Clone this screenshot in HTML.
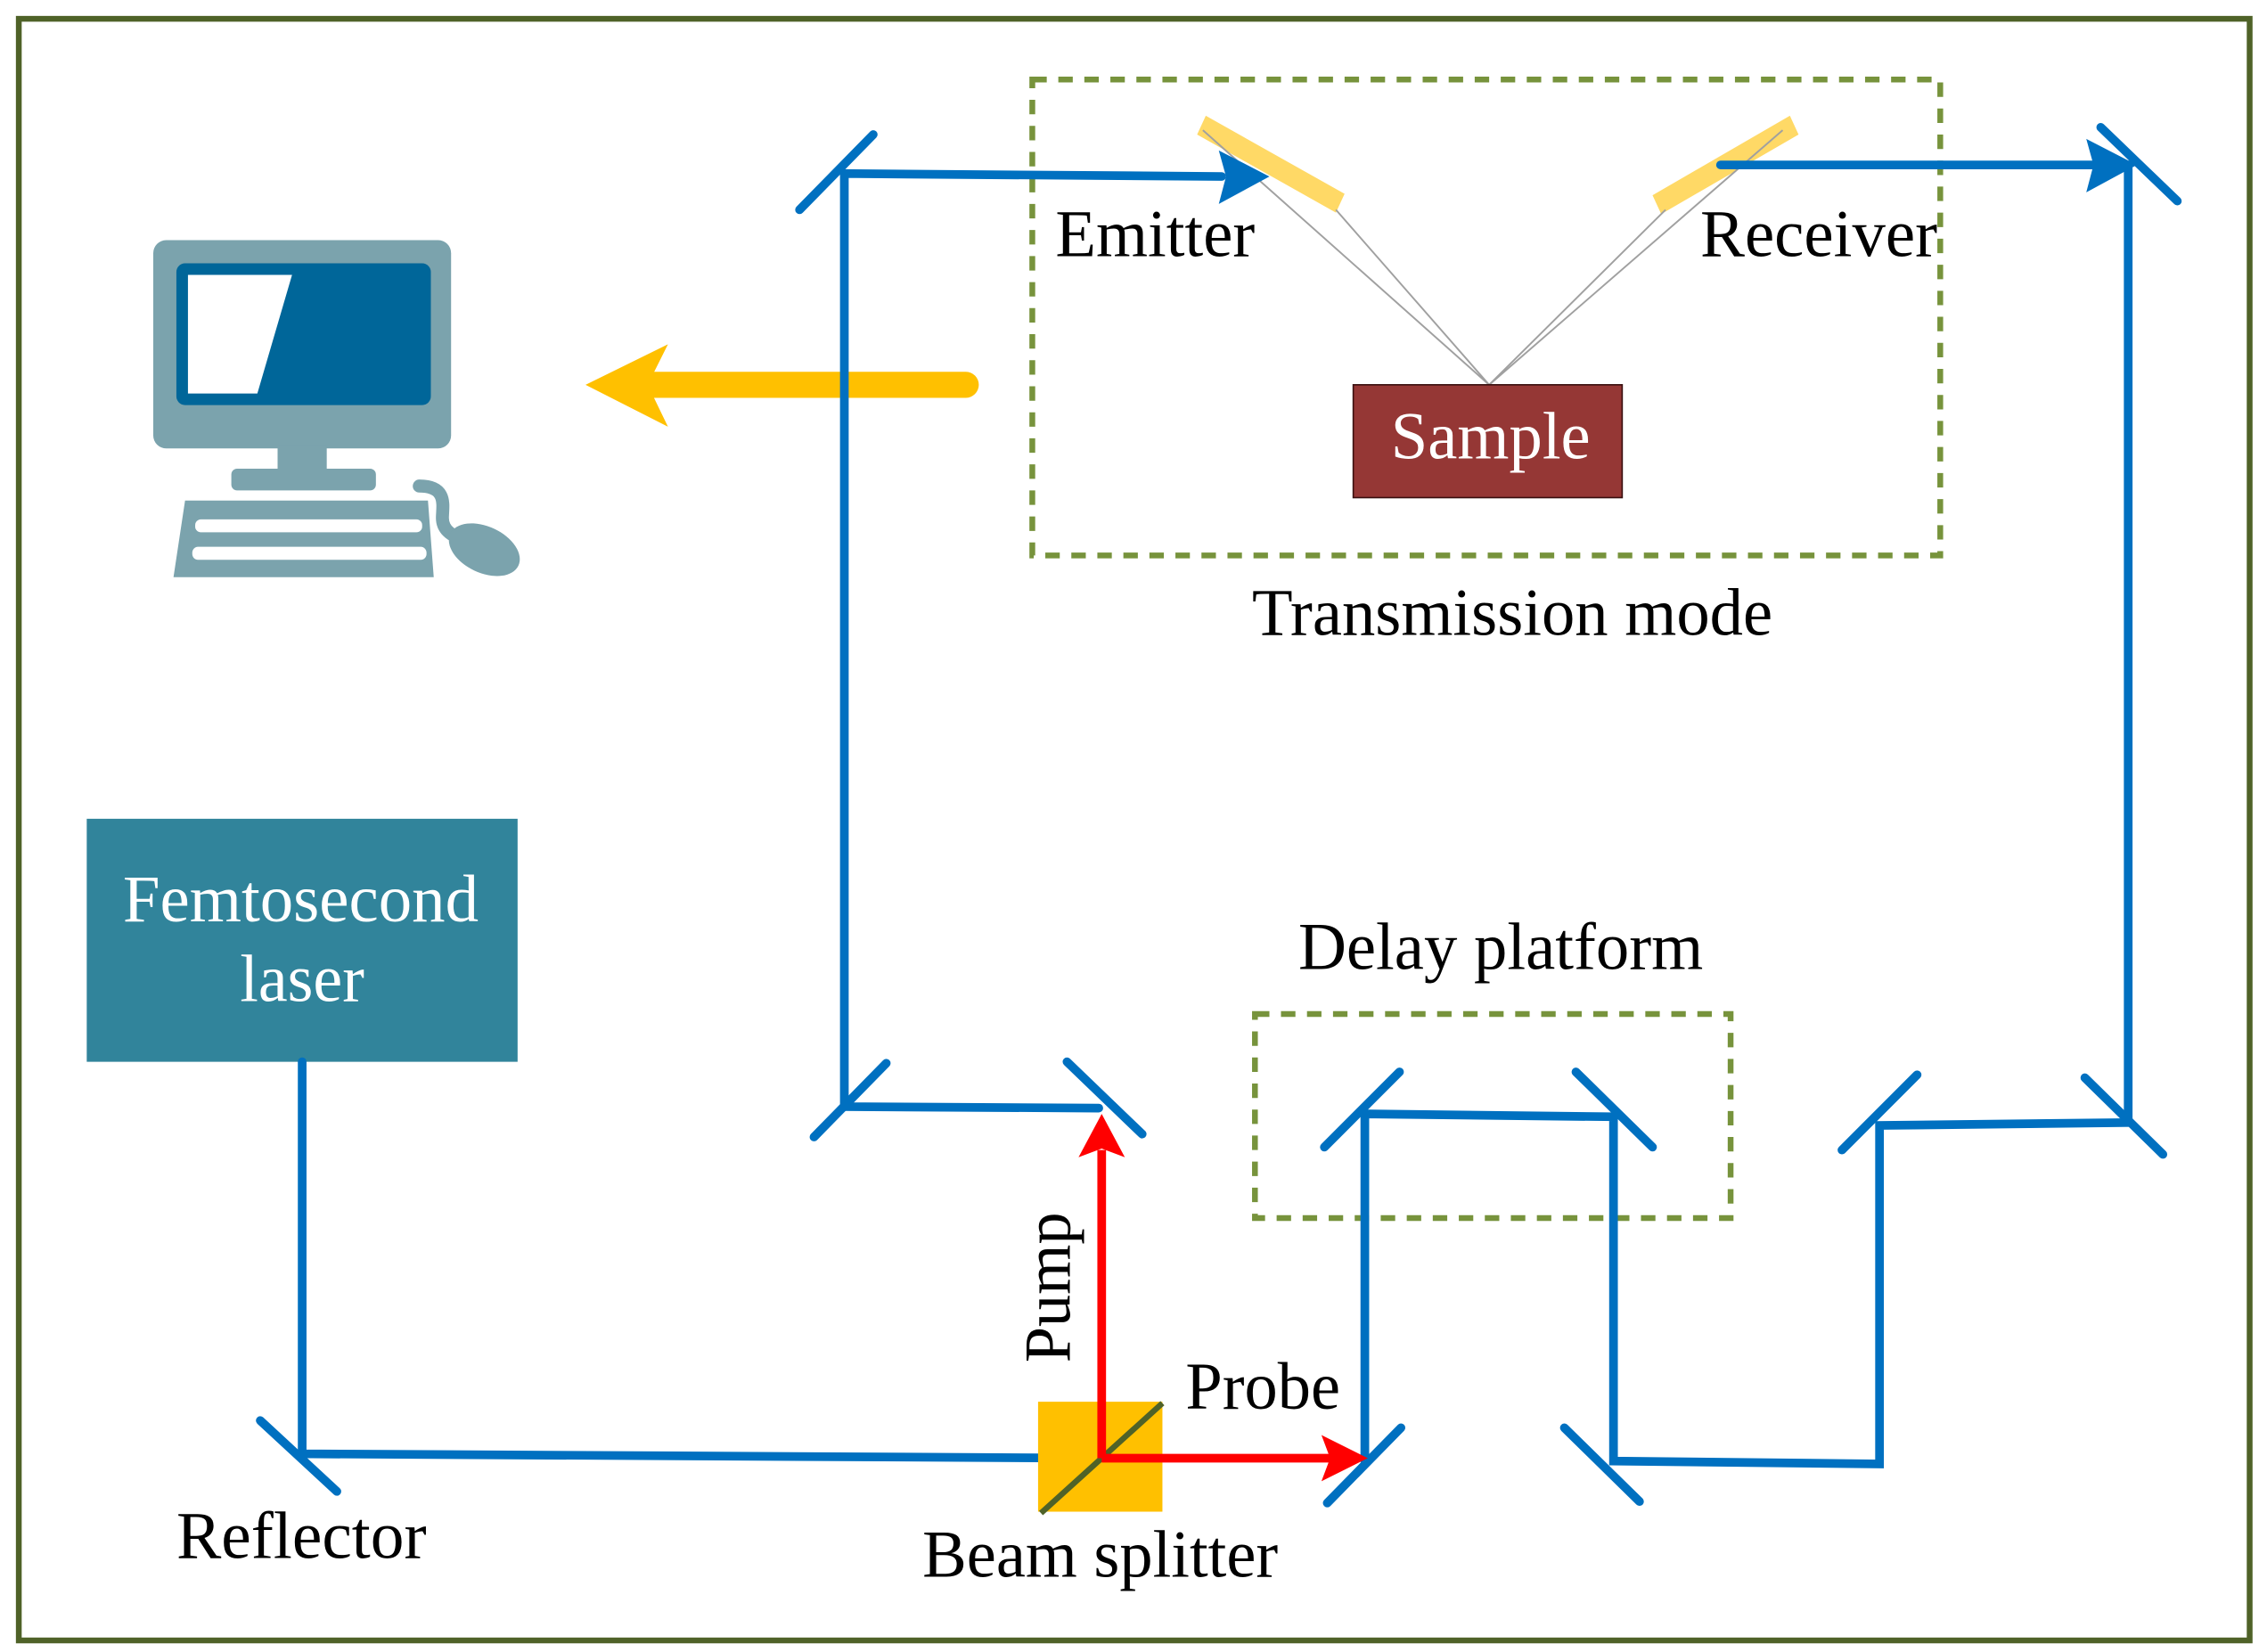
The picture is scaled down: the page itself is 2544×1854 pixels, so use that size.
<!DOCTYPE html>
<html><head><meta charset="utf-8"><style>
html,body{margin:0;padding:0;background:#fff;}
svg{display:block;}
text{font-family:"Liberation Serif",serif;}
</style></head><body>
<svg width="2544" height="1854" viewBox="0 0 1568 1142" preserveAspectRatio="none" xmlns="http://www.w3.org/2000/svg">
<rect x="13" y="13" width="1543" height="1121" fill="#fff" stroke="#4f6228" stroke-width="4"/>

<!-- computer -->
<rect x="106" y="166" width="206" height="144" rx="9" fill="#7ba3ad"/>
<rect x="122" y="182" width="176" height="98" rx="6" fill="#006699"/>
<polygon points="130,190 202,190 178,272 130,272" fill="#fff"/>
<rect x="192" y="308" width="34" height="18" fill="#7ba3ad"/>
<rect x="160" y="324" width="100" height="15" rx="4" fill="#7ba3ad"/>
<polygon points="128,346 296,346 300,399 120,399" fill="#7ba3ad"/>
<rect x="135" y="359" width="157" height="9" rx="4" fill="#fff"/>
<rect x="133" y="378" width="162" height="9" rx="4" fill="#fff"/>
<path d="M290,336 C310,336 306,350 306,358 C306,366 312,370 318,372" fill="none" stroke="#7ba3ad" stroke-width="9" stroke-linecap="round"/>
<ellipse cx="335" cy="380" rx="26" ry="16" transform="rotate(25 335 380)" fill="#7ba3ad"/>

<!-- yellow arrow -->
<line x1="668" y1="266" x2="450" y2="266" stroke="#ffc000" stroke-width="18" stroke-linecap="round"/>
<polygon points="405,266 462,238 448,266 462,295" fill="#ffc000"/>

<!-- transmission box -->
<rect x="714" y="55" width="628" height="329" fill="none" stroke="#77933c" stroke-width="4" stroke-dasharray="10,8"/>
<polygon points="834,80 930,134 924,147 828,93" fill="#ffd966"/>
<polygon points="1238,80 1244,93 1149,148 1143,135" fill="#ffd966"/>
<g stroke="#a0a0a0" stroke-width="1.2" fill="none">
<line x1="832" y1="90" x2="1030" y2="266"/>
<line x1="924" y1="145" x2="1030" y2="266"/>
<line x1="1233" y1="90" x2="1030" y2="266"/>
<line x1="1152" y1="145" x2="1030" y2="266"/>
</g>
<rect x="936" y="266" width="186" height="78" fill="#953735" stroke="#3a1010" stroke-width="1"/>
<text x="962" y="317" font-size="46" fill="#fff" textLength="138" lengthAdjust="spacingAndGlyphs">Sample</text>
<text x="730" y="177" font-size="46" textLength="138" lengthAdjust="spacingAndGlyphs">Emitter</text>
<text x="1176" y="177" font-size="46" textLength="164" lengthAdjust="spacingAndGlyphs">Receiver</text>
<text x="866" y="439" font-size="46" textLength="360" lengthAdjust="spacingAndGlyphs">Transmission mode</text>

<!-- delay box -->
<rect x="868" y="701" width="329" height="141" fill="none" stroke="#77933c" stroke-width="4" stroke-dasharray="10,8"/>
<text x="898" y="670" font-size="46" textLength="280" lengthAdjust="spacingAndGlyphs">Delay platform</text>

<!-- laser -->
<rect x="60" y="566" width="298" height="168" fill="#31849b"/>
<text x="85" y="637" font-size="46" fill="#fff" textLength="246" lengthAdjust="spacingAndGlyphs">Femtosecond</text>
<text x="166" y="692" font-size="46" fill="#fff" textLength="86" lengthAdjust="spacingAndGlyphs">laser</text>

<!-- blue beams -->
<g stroke="#0070c0" stroke-width="6" fill="none" stroke-linecap="round">
<polyline points="209,734 209,1005 762,1008"/>
<polyline points="760,766 584,765 584,120 845,122"/>
<polyline points="944,1010 944,770 1116,772 1116,1010 1300,1012 1300,778 1472,776 1472,114 1190,114"/>
<line x1="180" y1="982" x2="233" y2="1031"/>
<line x1="553" y1="145" x2="604" y2="93"/>
<line x1="563" y1="786" x2="613" y2="735"/>
<line x1="738" y1="734" x2="790" y2="784"/>
<line x1="918" y1="1039" x2="969" y2="987"/>
<line x1="916" y1="793" x2="968" y2="741"/>
<line x1="1090" y1="741" x2="1143" y2="793"/>
<line x1="1082" y1="987" x2="1134" y2="1038"/>
<line x1="1274" y1="795" x2="1326" y2="743"/>
<line x1="1442" y1="745" x2="1496" y2="798"/>
<line x1="1453" y1="88" x2="1506" y2="139"/>
</g>
<polygon points="878,122 843,104 848,122 843,141" fill="#0070c0"/>
<polygon points="1478,114 1443,96 1448,114 1443,133" fill="#0070c0"/>

<!-- beam splitter -->
<rect x="718" y="969" width="86" height="76" fill="#ffc000"/>
<line x1="720" y1="1046" x2="804" y2="970" stroke="#4f6228" stroke-width="4"/>

<!-- red -->
<g stroke="#ff0000" stroke-width="6" fill="none">
<line x1="762" y1="1008" x2="762" y2="795"/>
<line x1="762" y1="1008" x2="925" y2="1008"/>
</g>
<polygon points="762,770 746,800 762,794 778,800" fill="#ff0000"/>
<polygon points="946,1008 914,992 920,1008 914,1024" fill="#ff0000"/>

<text x="820" y="974" font-size="46" textLength="107" lengthAdjust="spacingAndGlyphs">Probe</text>
<text x="0" y="0" font-size="46" textLength="104" lengthAdjust="spacingAndGlyphs" transform="translate(740,942) rotate(-90)">Pump</text>
<text x="122" y="1077" font-size="46" textLength="173" lengthAdjust="spacingAndGlyphs">Reflector</text>
<text x="638" y="1090" font-size="46" textLength="246" lengthAdjust="spacingAndGlyphs">Beam splitter</text>
</svg>
</body></html>
